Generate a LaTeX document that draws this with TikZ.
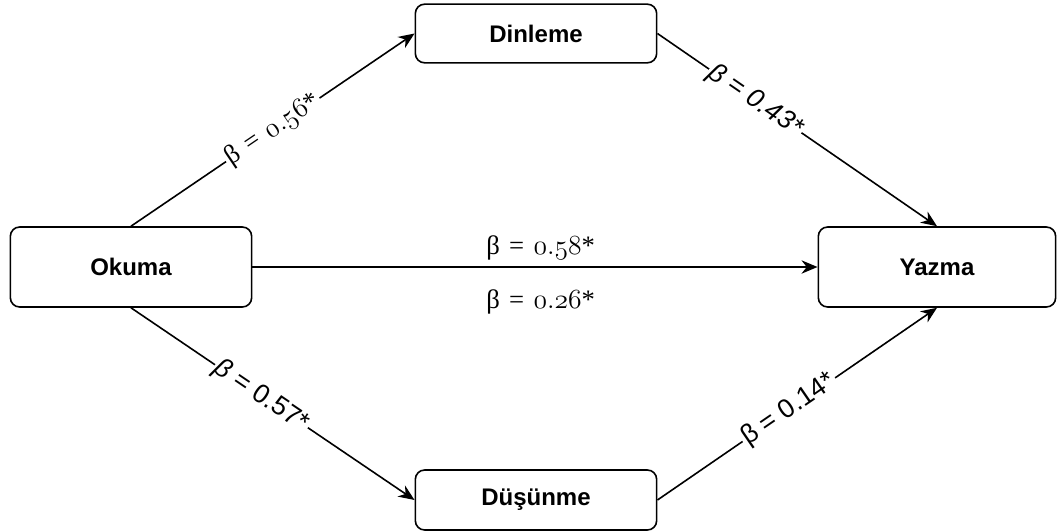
\documentclass[tikz,border=0pt]{standalone}
\usepackage{fontspec}
\setmainfont{Liberation Sans}
\newfontfamily\serifcoef{Liberation Serif}
\usetikzlibrary{arrows.meta,positioning}

% old style figures taken from the math italic font
\newcommand{\onum}[2]{{\usefont{OML}{cmm}{m}{it}#1\char58 #2}}
\newcommand{\sercoef}[2]{{\serifcoef β\hspace{0.35em}=\hspace{0.35em}\onum{#1}{#2}*}}

\begin{document}
\begin{tikzpicture}[x=0.75pt,y=-0.75pt,>={Stealth[length=12pt,width=10pt]},
  box/.style={rectangle, draw, line width=1.2pt, rounded corners=7pt, minimum width=181pt, align=center, font=\fontsize{18}{22}\selectfont\bfseries},
  coef/.style={fill=white, inner sep=1.5pt, font=\fontsize{20}{24}\selectfont},
  link/.style={->, line width=1.2pt}]
\useasboundingbox (0,0) rectangle (1058,532);

\node (okuma) [box, minimum height=60pt] at (131,267) {Okuma};
\node (yazma) [box, minimum height=60pt, minimum width=178pt] at (937,267) {Yazma};
\node (dinleme) [box, minimum height=44pt] at (536,33.5) {Dinleme};
\node (dusunme) [box, minimum height=45pt] at (536,500) {Düşünme};

\draw[link] (okuma.north) -- node[coef, sloped, pos=0.5] {\sercoef{0}{56}} (dinleme.west);
\draw[link] (dinleme.east) -- node[coef, sloped, pos=0.35] {\itshape β = 0.43*} (yazma.north);
\draw[link] (okuma) -- node[coef, above=3pt, pos=0.51] {\sercoef{0}{58}}
  node[coef, below=15pt, pos=0.51] {\sercoef{0}{26}} (yazma);
\draw[link] (okuma.south) -- node[coef, sloped, pos=0.46] {\textit{β} = 0.57*} (dusunme.west);
\draw[link] (dusunme.east) -- node[coef, sloped, pos=0.47] {β = 0.14*} (yazma.south);
\end{tikzpicture}
\end{document}
